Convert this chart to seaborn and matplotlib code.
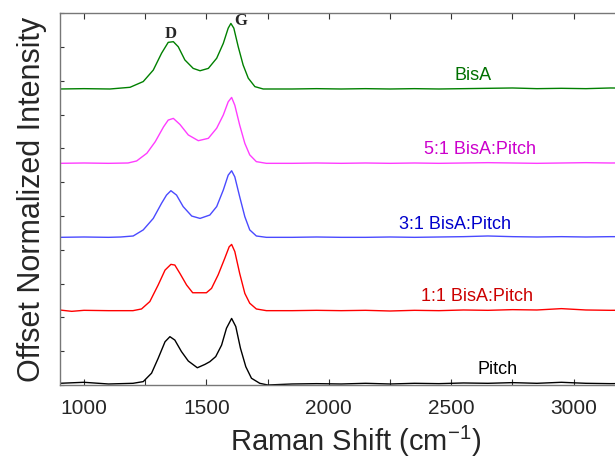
import numpy as np
import pandas as pd
import matplotlib
matplotlib.use("Agg")
import matplotlib.pyplot as plt
from matplotlib.ticker import MultipleLocator, NullFormatter
import seaborn as sns

# spectra (normalized intensity, before offset)
samples = ["Pitch", "1:1 BisA:Pitch", "3:1 BisA:Pitch", "5:1 BisA:Pitch", "BisA"]
offsets = [0.03, 2.2, 4.37, 6.56, 8.76]

tail_x = [1850, 1950, 2050, 2150, 2250, 2350, 2450, 2550, 2650, 2750, 2850, 2950, 3050, 3150, 3320]

pitch_x = [900, 1000, 1100, 1200, 1242, 1276, 1303, 1331, 1351, 1371, 1398, 1426, 1463, 1494,
           1514, 1538, 1562, 1582, 1603, 1620, 1639, 1661, 1684, 1718, 1751] + tail_x
pitch_y = [0.02, 0.05, 0.0, 0.02, 0.07, 0.32, 0.76, 1.25, 1.40, 1.30, 0.96, 0.68, 0.48, 0.58,
           0.66, 0.81, 1.15, 1.65, 1.94, 1.70, 1.06, 0.51, 0.17, 0.02, -0.03,
           0.0, 0.01, 0.0, 0.02, 0.0, 0.02, 0.01, 0.03, 0.02, 0.04, 0.02, 0.05, 0.02, 0.01, 0.02]

r11_x = [900, 950, 1000, 1100, 1200, 1235, 1269, 1303, 1331, 1355, 1371, 1392, 1419, 1444, 1500,
         1521, 1548, 1575, 1593, 1603, 1616, 1636, 1657, 1677, 1704, 1745] + tail_x
r11_y = [0.02, -0.02, 0.01, 0.0, 0.0, 0.05, 0.27, 0.76, 1.20, 1.37, 1.35, 1.10, 0.76, 0.53, 0.53,
         0.66, 1.06, 1.55, 1.89, 1.96, 1.75, 1.10, 0.51, 0.22, 0.05, 0.0,
         0.0, 0.01, 0.0, 0.01, -0.01, 0.01, 0.0, 0.02, 0.01, 0.03, 0.02, 0.06, 0.02, 0.01, 0.02]

r31_x = [900, 1000, 1100, 1150, 1201, 1242, 1283, 1317, 1337, 1355, 1378, 1405, 1440, 1474,
         1514, 1542, 1569, 1589, 1603, 1616, 1636, 1657, 1677, 1704, 1745] + tail_x
r31_y = [0.0, 0.01, 0.0, 0.01, 0.04, 0.22, 0.56, 1.01, 1.25, 1.38, 1.25, 0.91, 0.63, 0.56,
         0.66, 0.91, 1.40, 1.84, 1.97, 1.79, 1.20, 0.61, 0.22, 0.04, 0.0,
         0.0, 0.01, 0.0, 0.0, 0.01, 0.0, 0.01, 0.02, 0.04, 0.02, 0.01, 0.02, 0.01, 0.02, 0.02]

r51_x = [900, 1000, 1100, 1180, 1215, 1257, 1291, 1325, 1344, 1365, 1392, 1426, 1467, 1508,
         1542, 1569, 1589, 1603, 1616, 1636, 1657, 1677, 1704, 1745] + tail_x
r51_y = [0.0, 0.01, 0.0, 0.01, 0.07, 0.30, 0.64, 1.08, 1.28, 1.33, 1.15, 0.84, 0.67, 0.74,
         1.04, 1.43, 1.82, 1.95, 1.72, 1.13, 0.59, 0.25, 0.05, 0.0,
         0.0, 0.01, 0.0, 0.01, 0.0, 0.01, 0.0, 0.01, 0.02, 0.01, 0.0, 0.01, 0.02, 0.01, 0.02]

bisa_x = [900, 1000, 1106, 1188, 1242, 1283, 1317, 1344, 1365, 1385, 1412, 1446, 1474, 1508,
          1542, 1569, 1589, 1600, 1612, 1630, 1650, 1671, 1698, 1732] + tail_x
bisa_y = [0.0, 0.01, 0.0, 0.05, 0.22, 0.56, 1.06, 1.38, 1.40, 1.25, 0.86, 0.61, 0.54, 0.61,
          0.91, 1.35, 1.80, 1.94, 1.80, 1.25, 0.71, 0.32, 0.07, 0.0,
          0.0, 0.01, 0.0, 0.01, 0.0, 0.01, 0.0, 0.01, 0.02, 0.03, 0.01, 0.02, 0.01, 0.03, 0.02]

line_colors = ["#000000", "#ff0000", "#4a4aff", "#ff3cff", "#008000"]
text_colors = ["#000000", "#cc0000", "#0000cc", "#cc00cc", "#007000"]
label_x = [2690, 2604, 2514, 2616, 2588]
label_y = [0.47, 2.63, 4.76, 6.98, 9.17]

xs = [pitch_x, r11_x, r31_x, r51_x, bisa_x]
ys = [pitch_y, r11_y, r31_y, r51_y, bisa_y]
frames = []
for name, off, x, y in zip(samples, offsets, xs, ys):
    frames.append(pd.DataFrame({"shift": x, "intensity": np.array(y) + off, "sample": name}))
df = pd.concat(frames, ignore_index=True)

sns.set_theme(style="ticks")
plt.rcParams["font.family"] = ["Liberation Sans", "DejaVu Sans"]
plt.rcParams["mathtext.fontset"] = "custom"
plt.rcParams["mathtext.rm"] = "Liberation Sans"
plt.rcParams["mathtext.it"] = "Liberation Sans:italic"
plt.rcParams["mathtext.bf"] = "Liberation Sans:bold"

fig = plt.figure(figsize=(6.15, 4.58), dpi=100)
ax = fig.add_axes([60 / 615, 1 - 385 / 458, 591 / 615, (385 - 13.3) / 458])

sns.lineplot(data=df, x="shift", y="intensity", hue="sample", palette=dict(zip(samples, line_colors)),
             estimator=None, legend=False, linewidth=1.0, ax=ax)

for name, c, tx, ty in zip(samples, text_colors, label_x, label_y):
    ax.text(tx, ty, name, color=c, fontsize=13, ha="center", va="center")

ax.text(1355, 10.4, "D", family="Liberation Serif", fontweight="bold", fontsize=12, ha="center", va="center")
ax.text(1641, 10.78, "G", family="Liberation Serif", fontweight="bold", fontsize=12, ha="center", va="center")

ax.set_xlim(902, 3316)
ax.set_ylim(0, 11)
ax.xaxis.set_major_locator(MultipleLocator(500))
ax.xaxis.set_minor_locator(MultipleLocator(250))
ax.yaxis.set_major_locator(MultipleLocator(1))
ax.yaxis.set_major_formatter(NullFormatter())
ax.tick_params(axis="x", which="both", direction="in", top=True, length=4, width=0.8,
               labelsize=15, pad=10, color="#333333")
ax.tick_params(axis="y", which="both", direction="in", length=3, width=0.8, color="#333333")
for s in ax.spines.values():
    s.set_color("#777777")
    s.set_linewidth(1.0)

ax.set_xlabel("Raman Shift (cm$^{\\mathrm{-1}}$)", fontsize=21, labelpad=4)
ax.set_ylabel("Offset Normalized Intensity", fontsize=22, labelpad=6)

fig.savefig("out.png", dpi=100)
